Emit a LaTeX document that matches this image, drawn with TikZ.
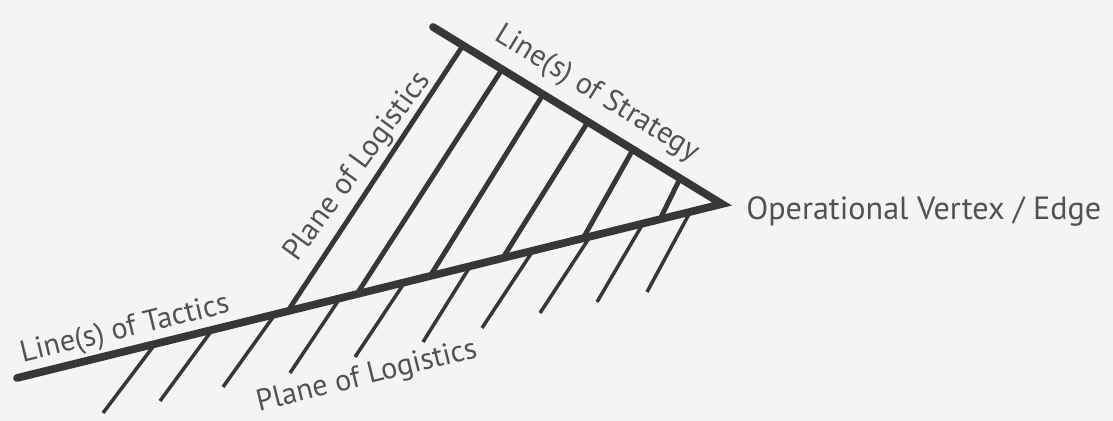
\documentclass[tikz,border=0pt]{standalone}
\usepackage{fontspec}
\setmainfont{PT Sans}
\usetikzlibrary{calc}
\definecolor{InkColor}{RGB}{55,55,55}
\definecolor{LabelColor}{RGB}{82,82,82}
\definecolor{PaperColor}{RGB}{244,244,242}

\begin{document}
\begin{tikzpicture}[x=0.02cm, y=-0.02cm,
    mainline/.style={InkColor, line width=4.4pt, line cap=round},
    planeline/.style={InkColor, line width=2.8pt},
    lowline/.style={InkColor, line width=2pt},
    lbl/.style={LabelColor, font=\fontsize{17.2}{20}\selectfont, inner sep=0pt}]
  \fill[PaperColor] (0,0) rectangle (1113,421);
  \useasboundingbox (0,0) rectangle (1113,421);
  \coordinate (tac) at (17,378);
  \coordinate (str) at (433,27);
  \coordinate (vtx) at (722,204);
  % hatching under the line of tactics
  \foreach \t/\bx/\by in {0.196/103/413, 0.277/160/401, 0.366/223/387, 0.458/290/373,
      0.550/355/357, 0.643/423/342, 0.732/482/328, 0.813/540/313, 0.888/597/302, 0.955/647/292}
    \draw[lowline] (\bx,\by) -- ($(tac)!\t!(vtx)$);
  % planes of logistics between tactics and strategy
  \foreach \s/\t in {0.104/0.384, 0.239/0.482, 0.381/0.586, 0.536/0.689, 0.692/0.803, 0.855/0.912}
    \draw[planeline] ($(str)!\s!(vtx)$) -- ($(tac)!\t!(vtx)$);
  \draw[mainline, line join=miter] (tac) -- (vtx) -- (str);
  \node[lbl, rotate=13.7] (tactics) at (125,330) {Line(s) of Tactics};
  \node[lbl, rotate=54] (planeup) at (358,167) {Plane of Logistics};
  \node[lbl, rotate=14] (planelow) at (367,377) {Plane of Logistics};
  \node[lbl, rotate=-31.5] (strategy) at (597,94) {Line(s) of Strategy};
  \node[lbl, anchor=west, font=\fontsize{18.3}{22}\selectfont] (vertex) at (746,211) {Operational Vertex / Edge};
\end{tikzpicture}
\end{document}
